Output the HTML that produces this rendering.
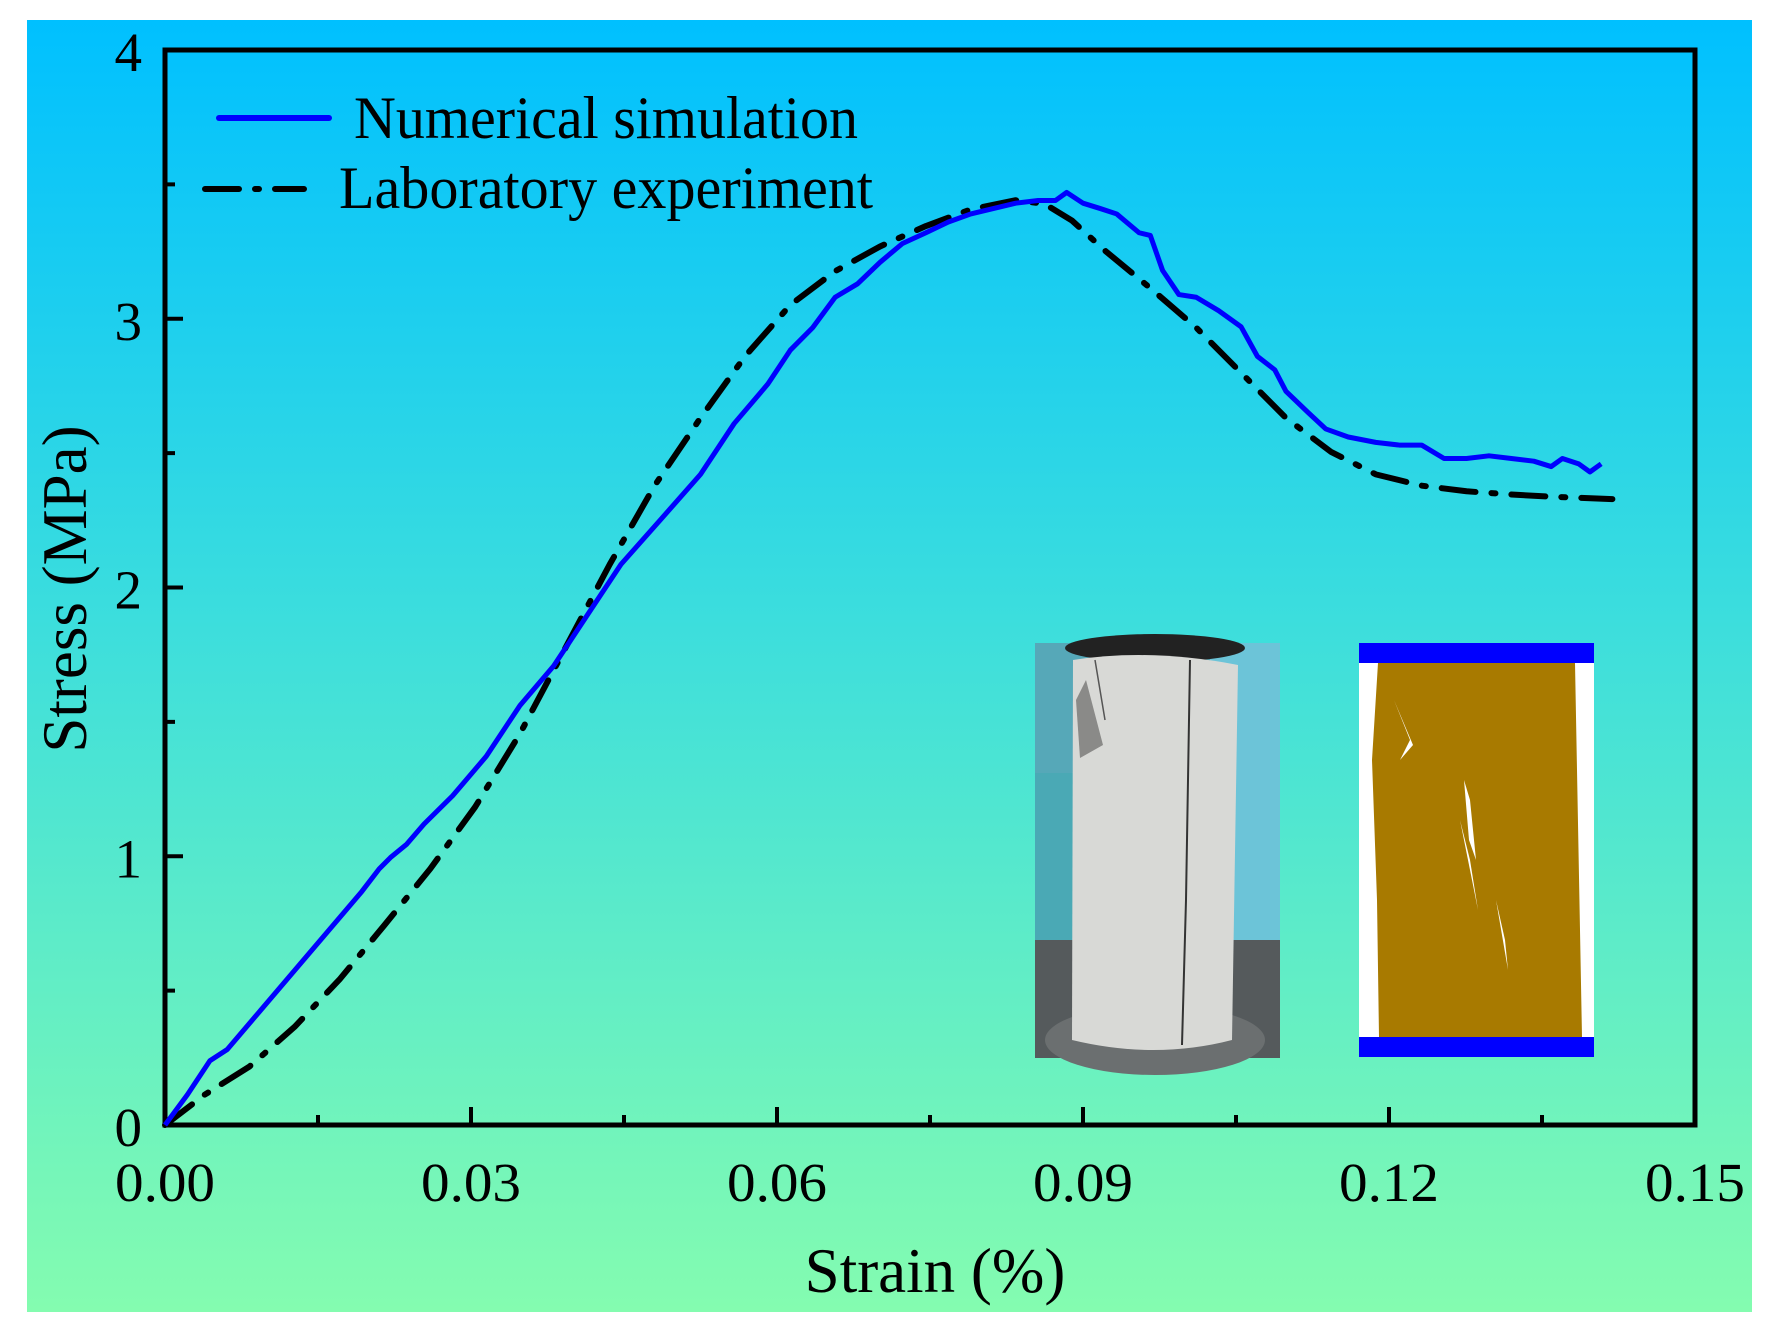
<!DOCTYPE html>
<html><head><meta charset="utf-8"><style>
html,body{margin:0;padding:0;background:#fff;}
svg{display:block;font-family:"Liberation Serif",serif;}
</style></head><body>
<svg id="chart" width="1768" height="1326" viewBox="0 0 1768 1326">
<defs>
<linearGradient id="bg" x1="0" y1="0" x2="0" y2="1">
<stop offset="0" stop-color="#00c0ff"/>
<stop offset="0.45" stop-color="#3addde"/>
<stop offset="1" stop-color="#84fcb0"/>
</linearGradient>
</defs>
<rect x="27" y="20" width="1725" height="1292" fill="url(#bg)"/>
<g id="axes"></g>
<g id="insets">
<g>
<rect x="1035" y="643" width="245" height="415" fill="#4aa9b5"/>
<rect x="1035" y="643" width="245" height="130" fill="#56a8b8"/>
<rect x="1210" y="643" width="70" height="300" fill="#6cc4d8"/>
<ellipse cx="1155" cy="648" rx="90" ry="14" fill="#222"/>
<rect x="1035" y="940" width="245" height="118" fill="#555a5c"/>
<ellipse cx="1155" cy="1040" rx="110" ry="35" fill="#6b6f70"/>
<path d="M1073 660 Q1150 648 1238 665 L1232 1040 Q1155 1060 1072 1040 Z" fill="#d8d9d6"/>
<path d="M1086 680 L1103 745 L1080 758 L1076 700 Z" fill="#8a8a88"/>
<path d="M1190 660 L1186 900 L1182 1045" stroke="#333" stroke-width="2" fill="none"/>
<path d="M1095 660 L1105 720" stroke="#555" stroke-width="1.5" fill="none"/>
</g>
<g>
<rect x="1359" y="643" width="235" height="414" fill="#ffffff"/>
<path d="M1378 663 L1575 663 L1582 1037 L1379 1037 L1377 900 L1372 760 Z" fill="#a87a00"/>
<path d="M1394 700 L1410 740 L1400 760 L1413 745 Z M1464 780 L1470 800 L1476 860 L1469 840 Z M1460 820 L1470 860 L1478 910 Z M1496 900 L1505 940 L1508 970 Z" fill="#fff"/>
<rect x="1359" y="643" width="235" height="20" fill="#0000ff"/>
<rect x="1359" y="1037" width="235" height="20" fill="#0000ff"/>
</g>
</g>
<g id="series"></g>
<g id="legend">
<g>
<line x1="219" y1="118" x2="329" y2="118" stroke="#0000ff" stroke-width="6" stroke-linecap="round"/>
<text x="354" y="138" font-size="60" textLength="504" lengthAdjust="spacingAndGlyphs">Numerical simulation</text>
</g>
<g>
<line x1="205" y1="189" x2="304" y2="189" stroke="#000" stroke-width="6" stroke-dasharray="34 16 4 16" stroke-linecap="round"/>
<text x="339" y="208" font-size="60" textLength="534" lengthAdjust="spacingAndGlyphs">Laboratory experiment</text>
</g>
</g>
</svg>
<script>
const simStrain=[0,.0022,.0044,.0061,.0094,.0127,.016,.0193,.021,.0221,.0237,.0254,.0282,.0315,.0348,.0381,.0414,.0447,.0486,.0525,.0558,.0591,.0613,.0635,.0657,.0679,.0701,.0723,.0746,.0768,.079,.0812,.0834,.0856,.0873,.0884,.09,.0917,.0933,.0955,.0966,.0978,.0994,.1011,.1033,.1055,.1071,.1088,.1099,.1121,.1138,.116,.1187,.121,.1232,.1254,.1276,.1298,.132,.1342,.1359,.137,.1386,.1397,.1408];
const simStress=[0,.113,.239,.281,.428,.575,.722,.869,.953,.995,1.045,1.12,1.225,1.372,1.561,1.708,1.897,2.086,2.253,2.421,2.61,2.757,2.883,2.967,3.08,3.13,3.21,3.28,3.32,3.36,3.39,3.41,3.43,3.44,3.44,3.47,3.43,3.41,3.39,3.32,3.31,3.18,3.09,3.08,3.03,2.97,2.86,2.81,2.73,2.65,2.59,2.56,2.54,2.53,2.53,2.48,2.48,2.49,2.48,2.47,2.45,2.48,2.46,2.43,2.46];
const labStrain=[0,.0039,.0083,.0127,.0171,.0215,.026,.0304,.0348,.0392,.0436,.048,.0525,.0569,.0613,.0657,.0701,.0746,.079,.0834,.0862,.0889,.0922,.0966,.1011,.1055,.1099,.1143,.1187,.1232,.1276,.132,.1364,.1419];
const labStress=[0,.113,.218,.365,.541,.743,.953,1.183,1.456,1.771,2.086,2.379,2.631,2.862,3.051,3.177,3.269,3.345,3.407,3.441,3.428,3.366,3.252,3.114,2.967,2.799,2.631,2.505,2.421,2.379,2.358,2.346,2.337,2.329];
const xTicks=[0,0.03,0.06,0.09,0.12,0.15];
const xTickLabels=["0.00","0.03","0.06","0.09","0.12","0.15"];
const yTicks=[0,1,2,3,4];
const yTickLabels=["0","1","2","3","4"];
const L=165,R=1695,T=50,B=1125,XMAX=0.15,YMAX=4;
const sx=v=>L+v/XMAX*(R-L);
const sy=v=>B-v/YMAX*(B-T);
const NS="http://www.w3.org/2000/svg";
function mk(tag,attrs,parent){const e=document.createElementNS(NS,tag);for(const k in attrs)e.setAttribute(k,attrs[k]);parent.appendChild(e);return e;}
const ax=document.getElementById('axes');
const frame=mk('rect',{x:L,y:T,width:R-L,height:B-T,fill:'none',stroke:'#000','stroke-width':5},ax);


xTicks.forEach((v,i)=>{
  const t=mk('line',{x1:sx(v),x2:sx(v),y1:B,y2:B-18,stroke:'#000','stroke-width':4},ax);
  
  
  if(i<xTicks.length-1){const m=mk('line',{x1:sx(v+0.015),x2:sx(v+0.015),y1:B,y2:B-10,stroke:'#000','stroke-width':4},ax);
  
  }
  const lb=mk('text',{x:sx(v),y:1201,'font-size':55,'text-anchor':'middle',textLength:100,lengthAdjust:'spacingAndGlyphs'},ax);lb.textContent=xTickLabels[i];
  
  
});
yTicks.forEach((v,i)=>{
  const t=mk('line',{x1:L,x2:L+18,y1:sy(v),y2:sy(v),stroke:'#000','stroke-width':4},ax);
  
  
  if(i<yTicks.length-1){const m=mk('line',{x1:L,x2:L+10,y1:sy(v+0.5),y2:sy(v+0.5),stroke:'#000','stroke-width':4},ax);
  
  }
  const lb=mk('text',{x:142,y:sy(v)+21,'font-size':55,'text-anchor':'end'},ax);lb.textContent=yTickLabels[i];
  
  
});
const xt=mk('text',{x:935,y:1292,'font-size':63,'text-anchor':'middle'},ax);xt.textContent='Strain (%)';


const yt=mk('text',{x:0,y:0,'font-size':63,'text-anchor':'middle',transform:'translate(86,589) rotate(-90)'},ax);yt.textContent='Stress (MPa)';


const se=document.getElementById('series');
const lab=mk('polyline',{points:labStrain.map((x,i)=>sx(x)+','+sy(labStress[i])).join(' '),fill:'none',stroke:'#000','stroke-width':6,'stroke-dasharray':'34 16 4 16','stroke-linecap':'round','stroke-linejoin':'round'},se);


const sim=mk('polyline',{points:simStrain.map((x,i)=>sx(x)+','+sy(simStress[i])).join(' '),fill:'none',stroke:'#0000ff','stroke-width':5,'stroke-linejoin':'round'},se);


</script>
</body></html>
